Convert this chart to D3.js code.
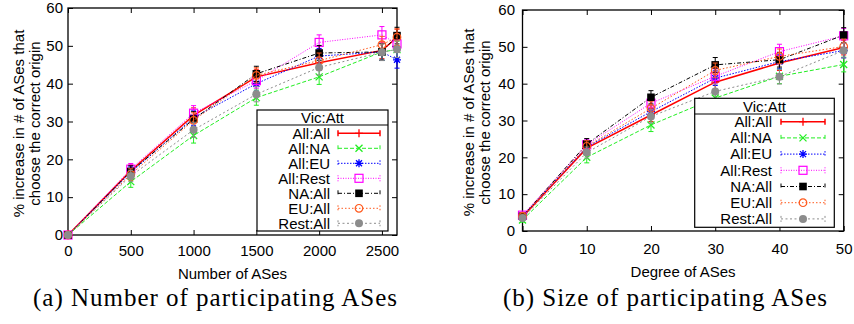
<!DOCTYPE html>
<html>
<head>
<meta charset="utf-8">
<script src="https://cdn.jsdelivr.net/npm/d3@7"></script>
<style>
  body { margin: 0; background: #fff; }
</style>
</head>
<body>
<svg id="chart" width="854" height="324"></svg>
<script>
// ---- data ----
var seriesNames = ["All:All", "All:NA", "All:EU", "All:Rest", "NA:All", "EU:All", "Rest:All"];
var yTicks = [0, 10, 20, 30, 40, 50, 60];

// (a) number of participating ASes
var numASes = [0, 500, 1000, 1500, 2000, 2500, 2620];
var numTicks = [0, 500, 1000, 1500, 2000, 2500];
var numAllAll  = [0, 17.0, 31.6, 41.8, 45.5, 48.8, 52.2];
var numAllNA   = [0, 14.1, 26.3, 36.3, 41.8, 48.4, 49.0];
var numAllEU   = [0, 16.5, 31.0, 40.0, 47.3, 48.4, 46.3];
var numAllRest = [0, 17.4, 32.2, 40.8, 50.9, 52.9, 50.5];
var numNAAll   = [0, 16.8, 30.6, 42.6, 48.1, 48.4, 52.7];
var numEUAll   = [0, 16.0, 30.3, 42.2, 46.1, 50.3, 52.3];
var numRestAll = [0, 15.6, 27.8, 37.2, 44.3, 48.3, 49.1];
var numErr     = [0, 1.5, 2.0, 2.0, 2.0, 2.2, 2.2];

// (b) size of participating ASes
var degree = [0, 10, 20, 30, 40, 50];
var degreeTicks = [0, 10, 20, 30, 40, 50];
var degAllAll  = [3.8, 22.5, 31.5, 40.4, 45.6, 49.8];
var degAllNA   = [3.0, 20.0, 28.8, 36.1, 42.0, 45.2];
var degAllEU   = [4.0, 22.8, 32.4, 41.5, 46.0, 49.0];
var degAllRest = [4.3, 23.4, 34.7, 42.0, 48.7, 53.0];
var degNAAll   = [4.0, 23.6, 36.3, 45.1, 46.5, 53.2];
var degEUAll   = [4.0, 23.0, 33.3, 43.6, 47.4, 50.1];
var degRestAll = [3.5, 21.3, 31.1, 37.9, 41.9, 49.0];
var degErr     = [0.6, 1.5, 1.8, 2.0, 2.0, 2.0];

// ---- styles (gnuplot-like) ----
var styles = [
  {color: "#ff0000", dash: null,        width: 1.5, marker: "plus"},
  {color: "#22ee22", dash: "4,2",       width: 1,   marker: "cross"},
  {color: "#0000ff", dash: "1.5,1.5",   width: 1,   marker: "star"},
  {color: "#ff00ff", dash: "1,1.5",     width: 1,   marker: "square"},
  {color: "#000000", dash: "4,2,1,2",   width: 1,   marker: "fsquare"},
  {color: "#ff5a1e", dash: "1.5,2",     width: 1,   marker: "circle"},
  {color: "#8c8c8c", dash: "2,2.5",     width: 1,   marker: "fcircle"}
];

var SANS = "Liberation Sans, Arial, Helvetica, sans-serif";
var SERIF = "Liberation Serif, Times New Roman, serif";

var svg = d3.select("#chart");

function drawMarker(g, type, color, cx, cy) {
  var m = g.append("g").attr("transform", "translate(" + cx + "," + cy + ")");
  if (type == "plus") {
    m.append("path").attr("d", "M-4,0H4M0,-4V4").attr("stroke", color).attr("stroke-width", 1.3);
  } else if (type == "cross") {
    m.append("path").attr("d", "M-3.5,-3.5L3.5,3.5M-3.5,3.5L3.5,-3.5").attr("stroke", color).attr("stroke-width", 1.3);
  } else if (type == "star") {
    m.append("path").attr("d", "M-4,0H4M0,-4V4M-3,-3L3,3M-3,3L3,-3").attr("stroke", color).attr("stroke-width", 1.3);
  } else if (type == "square") {
    m.append("rect").attr("x", -4).attr("y", -4).attr("width", 8).attr("height", 8)
      .attr("fill", "none").attr("stroke", color).attr("stroke-width", 1.2);
  } else if (type == "fsquare") {
    m.append("rect").attr("x", -3.8).attr("y", -3.8).attr("width", 7.6).attr("height", 7.6).attr("fill", color);
  } else if (type == "circle") {
    m.append("circle").attr("r", 3.8).attr("fill", "none").attr("stroke", color).attr("stroke-width", 1.2);
  } else {
    m.append("circle").attr("r", 4).attr("fill", color);
  }
}

function label(g, x, y, txt, anchor) {
  return g.append("text").attr("x", x).attr("y", y)
    .attr("text-anchor", anchor || "middle")
    .attr("font-family", SANS).attr("font-size", 15).attr("fill", "#000")
    .text(txt);
}

function drawPanel(p) {
  var g = svg.append("g");
  var x = d3.scaleLinear().domain(p.xDomain).range([p.left, p.right]);
  var y = d3.scaleLinear().domain([0, 60]).range([p.bottom, p.top]);

  // axes with inward ticks, mirrored on top and right
  var ax = g.append("g").attr("transform", "translate(0," + p.bottom + ")")
    .call(d3.axisBottom(x).tickValues(p.xTicks).tickFormat(d3.format("d"))
      .tickSizeInner(-5).tickSizeOuter(0).tickPadding(p.xPad));
  var axTop = g.append("g").attr("transform", "translate(0," + p.top + ")")
    .call(d3.axisTop(x).tickValues(p.xTicks).tickSizeInner(-5).tickSizeOuter(0).tickFormat(""));
  var ay = g.append("g").attr("transform", "translate(" + p.left + ",0)")
    .call(d3.axisLeft(y).tickValues(yTicks).tickFormat(d3.format("d"))
      .tickSizeInner(-5).tickSizeOuter(0).tickPadding(p.yPad));
  var ayR = g.append("g").attr("transform", "translate(" + p.right + ",0)")
    .call(d3.axisRight(y).tickValues(yTicks).tickSizeInner(-5).tickSizeOuter(0).tickFormat(""));
  [ax, axTop, ay, ayR].forEach(function(a) {
    a.attr("font-family", SANS).attr("font-size", 15);
    a.select(".domain").remove();
    a.selectAll("text").attr("fill", "#000");
    a.selectAll("line").attr("stroke", "#000");
  });

  g.append("rect")
    .attr("x", p.left).attr("y", p.top)
    .attr("width", p.right - p.left).attr("height", p.bottom - p.top)
    .attr("fill", "none").attr("stroke", "#000").attr("stroke-width", 1.3);

  // series
  p.series.forEach(function(vals, s) {
    var st = styles[s];
    var line = d3.line().x(function(d, i) { return x(p.xs[i]); }).y(function(d) { return y(d); });
    g.append("path").datum(vals)
      .attr("d", line)
      .attr("fill", "none")
      .attr("stroke", st.color)
      .attr("stroke-width", st.width)
      .attr("stroke-dasharray", st.dash);
    vals.forEach(function(v, i) {
      var e = p.err[i];
      if (e > 0) {
        var cx = x(p.xs[i]);
        g.append("path")
          .attr("d", "M" + cx + "," + y(v - e) + "V" + y(v + e) +
                     "M" + (cx - 2.5) + "," + y(v - e) + "H" + (cx + 2.5) +
                     "M" + (cx - 2.5) + "," + y(v + e) + "H" + (cx + 2.5))
          .attr("stroke", st.color).attr("stroke-width", 1).attr("fill", "none");
      }
      drawMarker(g, st.marker, st.color, x(p.xs[i]), y(v));
    });
  });

  // legend
  var L = p.legend;
  var lg = g.append("g");
  lg.append("rect").attr("x", L.x0).attr("y", L.y0)
    .attr("width", L.x1 - L.x0).attr("height", L.y1 - L.y0)
    .attr("fill", "#fff").attr("stroke", "#000").attr("stroke-width", 1.2);
  lg.append("line").attr("x1", L.x0).attr("x2", L.x1).attr("y1", L.sep).attr("y2", L.sep)
    .attr("stroke", "#000").attr("stroke-width", 1.2);
  label(lg, (L.x0 + L.x1) / 2, L.titleY, "Vic:Att");
  seriesNames.forEach(function(name, s) {
    var st = styles[s];
    var cy = L.row0 + s * L.rowStep;
    label(lg, L.textX, cy + 5.3, name, "end");
    lg.append("path")
      .attr("d", "M" + L.s0 + "," + cy + "H" + L.s1 +
                 "M" + L.s0 + "," + (cy - 3) + "V" + (cy + 3) +
                 "M" + L.s1 + "," + (cy - 3) + "V" + (cy + 3))
      .attr("stroke", st.color).attr("stroke-width", st.width)
      .attr("stroke-dasharray", st.dash).attr("fill", "none");
    drawMarker(lg, st.marker, st.color, (L.s0 + L.s1) / 2, cy);
  });

  // axis titles
  label(g, (p.left + p.right) / 2, p.xTitleY, p.xTitle);
  var cyMid = (p.top + p.bottom) / 2 + 2;
  label(g, 0, 0, "% increase in # of ASes that")
    .attr("transform", "translate(" + p.yLab1 + "," + cyMid + ") rotate(-90)");
  label(g, 0, 0, "choose the correct origin")
    .attr("transform", "translate(" + p.yLab2 + "," + cyMid + ") rotate(-90)");

  // caption
  svg.append("text")
    .attr("x", p.capX).attr("y", 306)
    .attr("text-anchor", "middle")
    .attr("font-family", SERIF).attr("font-size", 25).attr("fill", "#000")
    .attr("textLength", p.capW).attr("lengthAdjust", "spacing")
    .text(p.caption);
}

drawPanel({
  left: 68, right: 397, top: 8, bottom: 235,
  xDomain: [0, 2620], xTicks: numTicks, xs: numASes,
  series: [numAllAll, numAllNA, numAllEU, numAllRest, numNAAll, numEUAll, numRestAll],
  err: numErr,
  xPad: 10, yPad: 5,
  xTitle: "Number of ASes", xTitleY: 278.5,
  yLab1: 24, yLab2: 40,
  legend: {x0: 257, x1: 388, y0: 110, y1: 231, sep: 125, titleY: 122.5,
           row0: 133.3, rowStep: 15, textX: 330, s0: 338, s1: 380},
  caption: "(a) Number of participating ASes", capX: 215, capW: 364
});

drawPanel({
  left: 522.5, right: 843.7, top: 10, bottom: 231,
  xDomain: [0, 50], xTicks: degreeTicks, xs: degree,
  series: [degAllAll, degAllNA, degAllEU, degAllRest, degNAAll, degEUAll, degRestAll],
  err: degErr,
  xPad: 12, yPad: 7.5,
  xTitle: "Degree of ASes", xTitleY: 277,
  yLab1: 474, yLab2: 490,
  legend: {x0: 694.7, x1: 834.3, y0: 98.3, y1: 227.3, sep: 114, titleY: 111.5,
           row0: 121.7, rowStep: 16.2, textX: 772, s0: 781, s1: 825},
  caption: "(b) Size of participating ASes", capX: 665, capW: 324
});
</script>
</body>
</html>
